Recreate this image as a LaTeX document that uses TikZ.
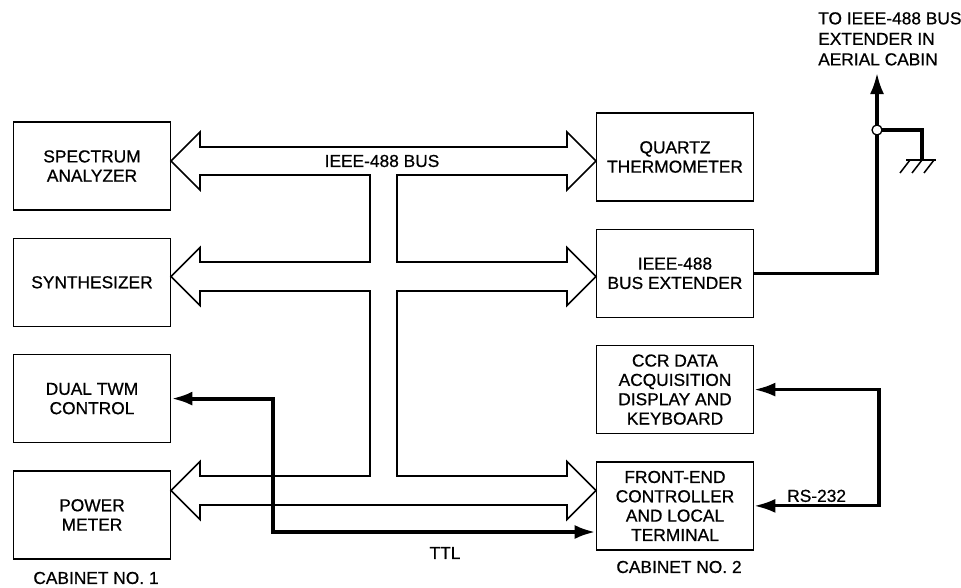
\documentclass[tikz,border=0pt]{standalone}
\usepackage{fontspec}
\setmainfont{Liberation Sans}[FakeBold=0.7]
\usetikzlibrary{positioning,arrows.meta}

\begin{document}
\begin{tikzpicture}[
    x=0.03cm, y=-0.03cm,
    node distance=0.81cm,
    >={Latex[length=18pt,width=12pt]},
    unit/.style={rectangle, draw, line width=1.1pt,
                 minimum width=4.72cm, minimum height=2.64cm,
                 align=center, inner sep=2pt,
                 font=\fontsize{14.8}{16.5}\selectfont},
    tag/.style={font=\fontsize{14.8}{16.5}\selectfont, inner sep=2pt},
    bus/.style={line width=1.4pt, line join=miter},
    wire/.style={line width=2.6pt}
]
\useasboundingbox (0,0) rectangle (961,587);

% cabinet no. 1
\node[unit] (spec) at (92,166) {SPECTRUM\\ANALYZER};
\node[unit] (synth) [below=of spec] {SYNTHESIZER};
\node[unit] (twm) [below=of synth] {DUAL TWM\\CONTROL};
\node[unit] (power) [below=of twm] {POWER\\METER};

% cabinet no. 2
\node[unit] (quartz) at (675,157) {QUARTZ\\THERMOMETER};
\node[unit] (busext) [below=of quartz] {IEEE-488\\BUS EXTENDER};
\node[unit] (ccr) [below=of busext] {CCR DATA\\ACQUISITION\\DISPLAY AND\\KEYBOARD};
\node[unit] (fec) [below=of ccr] {FRONT-END\\CONTROLLER\\AND LOCAL\\TERMINAL};

% the bus
\draw[bus] (171,161) -- (200,132) -- (200,147) -- (567,147) -- (567,132) -- (596,161)
  -- (567,190) -- (567,175) -- (397,175) -- (397,262) -- (567,262) -- (567,247.5)
  -- (596,276.5) -- (567,305.5) -- (567,291) -- (397,291) -- (397,476) -- (567,476)
  -- (567,461.5) -- (596,490.5) -- (567,519.5) -- (567,505) -- (200,505) -- (200,519.5)
  -- (171,490.5) -- (200,461.5) -- (200,476) -- (370,476) -- (370,291) -- (200,291)
  -- (200,305.5) -- (171,276.5) -- (200,247.5) -- (200,262) -- (370,262) -- (370,175)
  -- (200,175) -- (200,190) -- cycle;
\node[tag] (buslbl) at (382,161) {IEEE-488 BUS};

% TTL
\coordinate (ttlc) at (273,532);
\draw[wire, line width=3.4pt, <->] (twm.east) -| (ttlc) -- (fec.west |- ttlc);
\node[tag] (ttl) at (445,553) {TTL};

% RS-232
\coordinate (rs) at (879,445);
\draw[wire, <->] (ccr.east) -| (rs) |- node[tag, pos=0.75, above] {RS-232} (fec.east);

% to the aerial cabin
\coordinate (jn) at (877,130);
\coordinate (up) at (877,73);
\coordinate (gnd) at (922,160);
\draw[wire] (busext.east) -| (jn);
\draw[wire, ->] (jn) -- (up);
\draw[wire] (jn) -| (gnd);
\draw[line width=1.3pt] (906,160) -- (936,160);
\foreach \x in {910,922,934}
  \draw[line width=1.3pt] (\x,160) -- ++(-10,13);
\node[circle, draw, fill=white, line width=1.1pt, inner sep=0pt,
      minimum size=0.3cm] (jct) at (jn) {};
\node[tag, align=left, anchor=north west, inner sep=0pt,
      font=\fontsize{14.8}{17.5}\selectfont] (dest) at (818,12)
  {TO IEEE-488 BUS\\EXTENDER IN\\AERIAL CABIN};

\node[tag] (cab1) at (96,578) {CABINET NO. 1};
\node[tag] (cab2) at (679,567) {CABINET NO. 2};
\end{tikzpicture}
\end{document}
